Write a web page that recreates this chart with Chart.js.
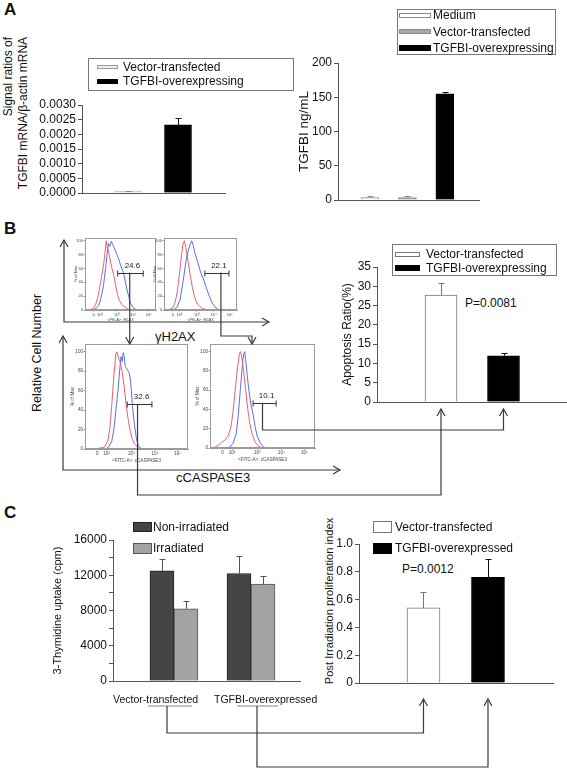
<!DOCTYPE html>
<html>
<head>
<meta charset="utf-8">
<title>TGFBI figure</title>
<script src="https://cdn.jsdelivr.net/npm/chart.js@4.4.1/dist/chart.umd.min.js"></script>
<style>
  html, body { margin: 0; background: #fff; }
  #fig { position: relative; width: 567px; height: 768px; overflow: hidden;
         font-family: "Liberation Sans", Arial, Helvetica, sans-serif; color: #111; }
  #fig canvas { position: absolute; }
  .t { position: absolute; white-space: nowrap; font-size: 12px; line-height: 1; }
  .rot { transform: translate(-50%, -50%) rotate(-90deg); }
  .panel { font-size: 17px; font-weight: bold; }
  .box { position: absolute; border: 1px solid #777; box-sizing: border-box; }
  .sw { position: absolute; box-sizing: border-box; }
  #wires { position: absolute; left: 0; top: 0; }
</style>
</head>
<body>
<div id="fig">
  <div class="t panel" style="left:4px;top:1px">A</div>
  <div class="t panel" style="left:4px;top:220px">B</div>
  <div class="t panel" style="left:4px;top:504px">C</div>

  <div class="t rot" style="left:16px;top:113px;text-align:right;line-height:15px">Signal ratios of<br>TGFBI mRNA/&beta;-actin mRNA</div>
  <div class="t rot" style="left:37px;top:353px;font-size:12.5px">Relative Cell Number</div>
  <div class="t" style="left:155px;top:330px;font-size:13px">&gamma;H2AX</div>
  <div class="t" style="left:176px;top:471px;font-size:13px">cCASPASE3</div>
  <div class="t" style="left:465px;top:297px">P=0.0081</div>
  <div class="t" style="left:402px;top:563px">P=0.0012</div>
  <div class="t rot" style="left:330px;top:601px;font-size:11.2px">Post Irradiation proliferation index</div>

  <canvas id="a1"></canvas>
  <canvas id="a2"></canvas>
  <canvas id="h1"></canvas>
  <canvas id="h2"></canvas>
  <canvas id="h3"></canvas>
  <canvas id="h4"></canvas>
  <canvas id="b1"></canvas>
  <canvas id="c1"></canvas>
  <canvas id="c2"></canvas>
  <svg id="wires" width="567" height="768"></svg>
</div>
<script>
// ---- data -------------------------------------------------------------------
// A, left: qPCR signal ratio
const A1_GROUPS = ["Vector-transfected", "TGFBI-overexpressing"];
const A1_VALUES = [0.00005, 0.00232];
const A1_ERRORS = [0.00003, 0.00022];

// A, right: ELISA
const A2_GROUPS = ["Medium", "Vector-transfected", "TGFBI-overexpressing"];
const A2_VALUES = [3.5, 3.5, 155];
const A2_ERRORS = [1.8, 2, 3];

// B, right: apoptosis ratio
const B_GROUPS = ["Vector-transfected", "TGFBI-overexpressing"];
const B_VALUES = [27.7, 12.0];
const B_ERRORS = [3.1, 0.8];

// C, left: thymidine uptake
const C1_GROUPS = ["Vector-transfected", "TGFBI-overexpressed"];
const C1_SERIES = ["Non-irradiated", "Irradiated"];
const C1_NONIRR = [12500, 12200];
const C1_NONIRR_ERR = [1300, 2000];
const C1_IRR = [8200, 11000];
const C1_IRR_ERR = [900, 900];

// C, right: post irradiation proliferation index
const C2_GROUPS = ["Vector-transfected", "TGFBI-overexpressed"];
const C2_VALUES = [0.54, 0.76];
const C2_ERRORS = [0.115, 0.13];

// B, flow histograms: x on the biexponential display axis (0..100), y = % of max
const H_TICK_POS = [12, 21, 45, 68, 90];
const H_TICK_LABELS = ["0", "10²", "10³", "10⁴", "10⁵"];
const H_Y_TICKS = [0, 20, 40, 60, 80, 100];

const H1_RED = [[3,0],[8,1],[12,2],[15,8],[18,18],[22,40],[25,58],[27,72],[30,100],[31,92],[33,85],[35,75],[38,60],[41,48],[43,36],[46,22],[48,15],[52,8],[55,5],[59,2],[62,1],[70,0],[100,0]];
const H1_BLUE = [[3,0],[12,1],[15,2],[19,6],[22,15],[26,35],[29,60],[31,80],[33,96],[35,92],[37,99],[39,95],[41,90],[43,85],[45,80],[48,72],[50,65],[53,57],[55,50],[57,40],[59,30],[62,18],[64,10],[67,5],[69,2],[76,0],[100,0]];
const H2_RED = [[3,0],[8,1],[12,3],[15,10],[18,25],[21,50],[24,80],[26,95],[28,100],[30,90],[33,70],[36,50],[39,32],[42,18],[45,10],[49,5],[53,2],[57,1],[65,0],[100,0]];
const H2_BLUE = [[3,0],[14,1],[18,4],[22,15],[26,40],[30,70],[33,85],[36,95],[38,100],[40,93],[43,80],[46,70],[50,55],[54,45],[58,32],[62,20],[66,10],[70,4],[74,1],[80,0],[100,0]];
const H3_RED = [[2,0],[10,0],[15,1],[19,2],[22,8],[24,20],[26,45],[28,75],[30,98],[31,100],[33,92],[34,90],[36,80],[38,65],[40,45],[42,30],[44,18],[46,10],[48,5],[51,2],[54,0],[100,0]];
const H3_BLUE = [[2,0],[20,0],[23,2],[26,8],[28,20],[30,40],[32,60],[34,85],[35,95],[36,90],[37,99],[38,96],[39,85],[41,82],[43,78],[44,72],[45,60],[46,45],[48,25],[50,10],[52,3],[55,0],[100,0]];
const H4_RED = [[2,0],[5,1],[8,3],[11,6],[14,8],[17,12],[20,22],[22,38],[24,60],[26,82],[28,98],[29,100],[30,96],[32,80],[34,60],[36,40],[38,25],[40,15],[43,6],[46,2],[50,0],[100,0]];
const H4_BLUE = [[2,0],[15,0],[19,1],[22,5],[25,15],[27,35],[29,62],[31,88],[32,97],[33,100],[34,92],[35,80],[37,60],[39,45],[41,35],[43,22],[45,12],[48,5],[51,1],[55,0],[100,0]];

// gates: bracket from..to at level, label, and where the connector leaves it
const GATE_H1 = { from: 46, to: 82, level: 54, drop: 63, label: "24.6" };
const GATE_H2 = { from: 56, to: 89, level: 54, drop: 78, label: "22.1" };
const GATE_H3 = { from: 41, to: 65, level: 46, drop: 51, label: "32.6" };
const GATE_H4 = { from: 41, to: 63, level: 47, drop: 50, label: "10.1" };

// ---- style -------------------------------------------------------------------
const FONT = "'Liberation Sans', Arial, Helvetica, sans-serif";
const AXIS = "#555";
const FRAME = "#9a9a9a";
const RED = "#e5505c";
const BLUE = "#4660e4";
const WHITE_BAR = "#ffffff", LIGHT_BAR = "#eeeeee", GRAY_BAR = "#aaaaaa", BLACK = "#000000";
const DARK_GRAY = "#454545", MID_GRAY = "#a3a3a3";

Chart.defaults.font.family = FONT;
Chart.defaults.color = "#111";
Chart.defaults.animation = false;
Chart.defaults.responsive = false;
Chart.defaults.plugins.legend.display = false;
Chart.defaults.plugins.tooltip.enabled = false;

const $ = (id) => document.getElementById(id);
const fig = $("fig");

// size + place a canvas so the plot area lands on `box` (page px); m = room around it
function place(id, box, m) {
  const c = $(id);
  c.width = box.r - box.l + m.l + m.r;
  c.height = box.b - box.t + m.t + m.b;
  c.style.left = (box.l - m.l) + "px";
  c.style.top = (box.t - m.t) + "px";
  return c;
}

const xy = (pairs) => pairs.map(([x, y]) => ({ x, y }));
const slots = (groups, vals) => groups.map((_, i) => ({ x: i + 1, y: vals[i] }));

// upper whisker only, like the original
const errorBars = {
  id: "errorBars",
  afterDatasetsDraw(chart) {
    const { ctx } = chart;
    const y = chart.scales.y;
    chart.data.datasets.forEach((ds, i) => {
      if (!ds.errors) return;
      chart.getDatasetMeta(i).data.forEach((bar, j) => {
        const top = Math.round(y.getPixelForValue(ds.data[j].y + ds.errors[j])) + 0.5;
        const x = Math.round(bar.x) + 0.5;
        ctx.save();
        ctx.strokeStyle = Array.isArray(ds.errorColor) ? ds.errorColor[j] : ds.errorColor;
        ctx.lineWidth = 1;
        ctx.beginPath();
        ctx.moveTo(x, bar.y); ctx.lineTo(x, top);
        ctx.moveTo(x - 3, top); ctx.lineTo(x + 3, top);
        ctx.stroke();
        ctx.restore();
      });
    });
  },
};

function barChart(id, box, m, o) {
  const c = place(id, box, m);
  return new Chart(c, {
    type: "bar",
    data: { datasets: o.datasets },
    options: {
      layout: { padding: { top: m.t, right: m.r, left: 0, bottom: 0 } },
      scales: {
        x: {
          type: "linear", min: o.xmin, max: o.xmax, offset: false,
          grid: { display: false, offset: false },
          border: { color: AXIS, width: 1 },
          ticks: { display: false },
          afterFit: (s) => { s.height = m.b; },
        },
        y: {
          min: 0, max: o.ymax,
          grid: { drawOnChartArea: false, drawTicks: true, tickLength: 4, color: AXIS },
          border: { color: AXIS, width: 1 },
          ticks: { stepSize: o.step, autoSkip: false, padding: 2, color: "#111", font: { size: 12 }, callback: o.fmt },
          title: o.title
            ? { display: true, text: o.title, color: "#111", font: { size: o.titleSize || 12 }, padding: 0 }
            : { display: false },
          afterFit: (s) => { s.width = m.l; },
        },
      },
    },
    plugins: [errorBars],
  });
}

// ---- histogram helpers -------------------------------------------------------
const frame = {
  id: "frame",
  afterDraw(chart) {
    const { ctx, chartArea: a } = chart;
    ctx.save();
    ctx.strokeStyle = FRAME; ctx.lineWidth = 1;
    ctx.strokeRect(Math.round(a.left) + 0.5, Math.round(a.top) + 0.5, Math.round(a.width) - 1, Math.round(a.height) - 1);
    ctx.restore();
  },
};

const gatePlugin = {
  id: "gate",
  afterDatasetsDraw(chart, args, g) {
    if (!g || g.from == null) return;
    const { ctx, scales: { x, y } } = chart;
    const x0 = x.getPixelForValue(g.from), x1 = x.getPixelForValue(g.to);
    const yy = Math.round(y.getPixelForValue(g.level)) + 0.5;
    ctx.save();
    ctx.strokeStyle = "#333"; ctx.lineWidth = 1;
    ctx.beginPath();
    ctx.moveTo(x0, yy); ctx.lineTo(x1, yy);
    ctx.moveTo(x0, yy - 3); ctx.lineTo(x0, yy + 3);
    ctx.moveTo(x1, yy - 3); ctx.lineTo(x1, yy + 3);
    ctx.stroke();
    ctx.fillStyle = "#222";
    ctx.font = "8px " + FONT;
    ctx.textAlign = "center"; ctx.textBaseline = "bottom";
    ctx.fillText(g.label, (x0 + x1) / 2 + 2, yy - 4);
    ctx.restore();
  },
};

function histChart(id, box, m, o) {
  const c = place(id, box, m);
  const line = (data, col) => ({ data: xy(data), borderColor: col, borderWidth: 0.9, pointRadius: 0, tension: 0 });
  return new Chart(c, {
    type: "line",
    data: { datasets: [line(o.red, RED), line(o.blue, BLUE)] },
    options: {
      layout: { padding: { top: m.t, right: m.r, left: 0, bottom: 0 } },
      plugins: { gate: o.gate },
      scales: {
        x: {
          type: "linear", min: 0, max: 100,
          afterBuildTicks: (s) => { s.ticks = H_TICK_POS.map((v) => ({ value: v })); },
          grid: { drawOnChartArea: false, tickLength: 1.5, color: FRAME },
          border: { color: FRAME },
          ticks: { autoSkip: false, maxRotation: 0, padding: 0.5, color: "#444", font: { size: o.font },
                   callback: (v, i) => H_TICK_LABELS[i] },
          title: { display: true, text: o.xTitle, color: "#444", font: { size: o.font }, padding: 0 },
          afterFit: (s) => { s.height = m.b; },
        },
        y: {
          min: 0, max: o.ymax,
          afterBuildTicks: (s) => { s.ticks = H_Y_TICKS.map((v) => ({ value: v })); },
          grid: { drawOnChartArea: false, tickLength: 1.5, color: FRAME },
          border: { color: FRAME },
          ticks: { autoSkip: false, padding: 0.5, color: "#444", font: { size: o.font } },
          title: { display: true, text: "% of Max", color: "#444", font: { size: o.font }, padding: 0 },
          afterFit: (s) => { s.width = m.l; },
        },
      },
    },
    plugins: [frame, gatePlugin],
  });
}

// ---- legends (html) ----------------------------------------------------------
function legend(items, o) {
  if (o.box) {
    const b = document.createElement("div");
    b.className = "box";
    b.style.cssText = `left:${o.box[0]}px;top:${o.box[1]}px;width:${o.box[2]}px;height:${o.box[3]}px`;
    fig.appendChild(b);
  }
  items.forEach((it, i) => {
    const cy = o.y + i * o.dy;
    const s = document.createElement("div");
    s.className = "sw";
    s.style.cssText = `left:${o.x}px;top:${cy - it.h / 2}px;width:${o.w}px;height:${it.h}px;background:${it.fill};border:1px solid ${it.stroke}`;
    const t = document.createElement("div");
    t.className = "t";
    t.textContent = it.text;
    t.style.cssText = `left:${o.x + o.w + o.gap}px;top:${cy - 6}px`;
    fig.appendChild(s); fig.appendChild(t);
  });
}

legend([
  { text: A1_GROUPS[0], fill: LIGHT_BAR, stroke: "#999", h: 4 },
  { text: A1_GROUPS[1], fill: BLACK, stroke: BLACK, h: 5 },
], { box: [88, 58, 206, 33], x: 97, w: 21, y: 67, dy: 14, gap: 5 });

legend([
  { text: A2_GROUPS[0], fill: WHITE_BAR, stroke: "#888", h: 5 },
  { text: A2_GROUPS[1], fill: GRAY_BAR, stroke: "#888", h: 5 },
  { text: A2_GROUPS[2], fill: BLACK, stroke: BLACK, h: 6 },
], { box: [397, 9, 159, 46], x: 399, w: 32, y: 15, dy: 16.5, gap: 2 });

legend([
  { text: B_GROUPS[0], fill: WHITE_BAR, stroke: "#777", h: 5 },
  { text: B_GROUPS[1], fill: BLACK, stroke: BLACK, h: 6 },
], { box: [392, 244, 165, 32], x: 395, w: 25, y: 254, dy: 14, gap: 6 });

legend([
  { text: C1_SERIES[0], fill: DARK_GRAY, stroke: "#222", h: 10 },
  { text: C1_SERIES[1], fill: MID_GRAY, stroke: "#555", h: 11 },
], { x: 133, w: 19, y: 527, dy: 21, gap: 1 });

legend([
  { text: C2_GROUPS[0], fill: WHITE_BAR, stroke: "#777", h: 12 },
  { text: C2_GROUPS[1], fill: BLACK, stroke: BLACK, h: 11 },
], { x: 373, w: 19, y: 527, dy: 21, gap: 3 });

// C, left category labels sit under the axis, a bit left of the bar pairs
[[113, C1_GROUPS[0]], [214, C1_GROUPS[1]]].forEach(([x, s]) => {
  const t = document.createElement("div");
  t.className = "t";
  t.textContent = s;
  t.style.cssText = `left:${x}px;top:694px;font-size:10.5px`;
  fig.appendChild(t);
});

// ---- charts --------------------------------------------------------------------
const M = (l, t = 10, r = 6, b = 10) => ({ l, t, r, b });

const a1 = barChart("a1", { l: 82, t: 105, r: 225, b: 193 }, M(50), {
  xmin: 0.08, xmax: 2.94, ymax: 0.003, step: 0.0005, fmt: (v) => v.toFixed(4),
  datasets: [{
    data: slots(A1_GROUPS, A1_VALUES), errors: A1_ERRORS, errorColor: ["#888", "#111"],
    backgroundColor: [LIGHT_BAR, BLACK], borderColor: ["#999", BLACK], borderWidth: 1, barThickness: 27,
  }],
});

const a2 = barChart("a2", { l: 338, t: 63, r: 479, b: 200 }, M(42), {
  xmin: 0.147, xmax: 3.91, ymax: 200, step: 50, title: "TGFBI ng/mL", titleSize: 13.5,
  datasets: [{
    data: slots(A2_GROUPS, A2_VALUES), errors: A2_ERRORS, errorColor: ["#888", "#888", "#111"],
    backgroundColor: [WHITE_BAR, GRAY_BAR, BLACK], borderColor: ["#888", "#888", BLACK], borderWidth: 1, barThickness: 18,
  }],
});

const h1 = histChart("h1", { l: 85, t: 238, r: 156, b: 310 }, M(12, 4, 4, 12), {
  red: H1_RED, blue: H1_BLUE, ymax: 104, font: 4, xTitle: "<PE-A>: H2AX", gate: GATE_H1,
});
const h2 = histChart("h2", { l: 164, t: 238, r: 237, b: 310 }, M(12, 4, 4, 12), {
  red: H2_RED, blue: H2_BLUE, ymax: 104, font: 4, xTitle: "<PE-A>: H2AX", gate: GATE_H2,
});
const h3 = histChart("h3", { l: 85, t: 344, r: 188, b: 449 }, M(15, 4, 4, 14), {
  red: H3_RED, blue: H3_BLUE, ymax: 108, font: 4.6, xTitle: "<FITC-A>: cCASPASE3", gate: GATE_H3,
});
const h4 = histChart("h4", { l: 210, t: 344, r: 315, b: 448 }, M(15, 4, 4, 14), {
  red: H4_RED, blue: H4_BLUE, ymax: 108, font: 4.6, xTitle: "<FITC-A>: cCASPASE3", gate: GATE_H4,
});

const b1 = barChart("b1", { l: 377, t: 267, r: 567, b: 402 }, M(37), {
  xmin: -0.024, xmax: 3.016, ymax: 35, step: 5, title: "Apoptosis Ratio(%)",
  datasets: [{
    data: slots(B_GROUPS, B_VALUES), errors: B_ERRORS, errorColor: ["#777", "#111"],
    backgroundColor: [WHITE_BAR, BLACK], borderColor: ["#777", BLACK], borderWidth: 1, barThickness: 32,
  }],
});

const c1 = barChart("c1", { l: 113, t: 540, r: 300, b: 681 }, M(62), {
  xmin: 0.208, xmax: 2.637, ymax: 16000, step: 2000, fmt: (v) => (v % 4000 === 0 ? v : ""),
  title: "3-Thymidine uptake (cpm)", titleSize: 11,
  datasets: [
    { label: C1_SERIES[0], data: slots(C1_GROUPS, C1_NONIRR), errors: C1_NONIRR_ERR, errorColor: "#555",
      backgroundColor: DARK_GRAY, borderColor: "#222", borderWidth: 1, barThickness: 24 },
    { label: C1_SERIES[1], data: slots(C1_GROUPS, C1_IRR), errors: C1_IRR_ERR, errorColor: "#555",
      backgroundColor: MID_GRAY, borderColor: "#555", borderWidth: 1, barThickness: 24 },
  ],
});

const c2 = barChart("c2", { l: 359, t: 544, r: 553, b: 683 }, M(34), {
  xmin: 0, xmax: 3.008, ymax: 1, step: 0.2, fmt: (v) => (v === 0 ? "0" : v.toFixed(1)),
  datasets: [{
    data: slots(C2_GROUPS, C2_VALUES), errors: C2_ERRORS, errorColor: ["#777", "#111"],
    backgroundColor: [WHITE_BAR, BLACK], borderColor: ["#777", BLACK], borderWidth: 1, barThickness: 33,
  }],
});

// ---- connectors -----------------------------------------------------------------
const px = (ch, v) => ch.canvas.offsetLeft + ch.scales.x.getPixelForValue(v);
const py = (ch, v) => ch.canvas.offsetTop + ch.scales.y.getPixelForValue(v);
const boxTop = (ch) => ch.canvas.offsetTop + ch.chartArea.top;
const axisY = (ch) => ch.canvas.offsetTop + ch.chartArea.bottom;
const barX = (ch, i) => ch.canvas.offsetLeft + ch.getDatasetMeta(0).data[i].x;
const drop = (ch, g) => [px(ch, g.drop), py(ch, g.level)];

const paths = [];
function wire(pts, headEnd = true, headStart = false) {
  paths.push(`<polyline points="${pts.map((p) => p.join(",")).join(" ")}"/>`);
  const head = (a, b) => {
    const dx = b[0] - a[0], dy = b[1] - a[1], len = Math.hypot(dx, dy);
    const ux = dx / len, uy = dy / len;
    const bx = b[0] - ux * 7, by = b[1] - uy * 7;
    paths.push(`<polyline points="${bx - uy * 4},${by + ux * 4} ${b[0]},${b[1]} ${bx + uy * 4},${by - ux * 4}"/>`);
  };
  if (headEnd) head(pts[pts.length - 2], pts[pts.length - 1]);
  if (headStart) head(pts[1], pts[0]);
}

// big axes framing the flow rows
wire([[64, 240], [64, 322], [269, 322]], true, true);
wire([[63, 336], [63, 470], [340, 470]], true, true);

// gate -> gate
const [g1x, g1y] = drop(h1, GATE_H1);
wire([[g1x, g1y], [g1x, boxTop(h3)]]);
const [g2x, g2y] = drop(h2, GATE_H2);
const t4 = px(h4, 40);
wire([[g2x, g2y], [g2x, 336], [t4, 336], [t4, boxTop(h4)]]);

// gate -> apoptosis bars
const [g3x, g3y] = drop(h3, GATE_H3);
wire([[g3x, g3y], [g3x, 495], [barX(b1, 0), 495], [barX(b1, 0), axisY(b1) + 7]]);
const [g4x, g4y] = drop(h4, GATE_H4);
wire([[g4x, g4y], [g4x, 430], [barX(b1, 1), 430], [barX(b1, 1), axisY(b1) + 7]]);

// C: irradiated pairs -> proliferation index bars
paths.push(`<line x1="148" y1="706" x2="192" y2="706" stroke="#888"/>`);
paths.push(`<line x1="237" y1="706" x2="278" y2="706" stroke="#888"/>`);
wire([[167, 706], [167, 733], [barX(c2, 0), 733], [barX(c2, 0), axisY(c2) + 16]]);
wire([[257, 706], [257, 767], [barX(c2, 1), 767], [barX(c2, 1), axisY(c2) + 16]]);

$("wires").innerHTML = `<g fill="none" stroke="#3a3a3a" stroke-width="1.2">${paths.join("")}</g>`;
</script>
</body>
</html>
